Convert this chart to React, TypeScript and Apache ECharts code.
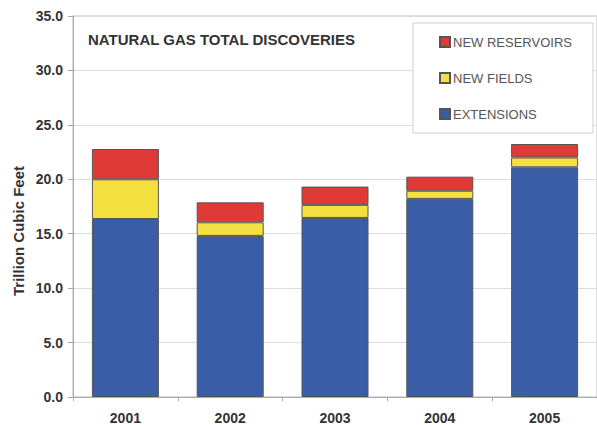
import React, { useEffect, useRef } from "react";
import * as echarts from "echarts";

const categories = ["2001", "2002", "2003", "2004", "2005"];
const extensions = [16.35, 14.8, 16.45, 18.2, 21.1];
const newFields = [3.65, 1.25, 1.2, 0.75, 0.9];
const newReservoirs = [2.78, 1.83, 1.68, 1.29, 1.24];
const legendOrder = ["NEW RESERVOIRS", "NEW FIELDS", "EXTENSIONS"];

const FONT = "'Liberation Sans', Arial, sans-serif";

export default function App() {
  const ref = useRef<HTMLDivElement>(null);
  useEffect(() => {
    if (!ref.current) return;
    const chart = echarts.init(ref.current, undefined, { renderer: "svg" });
    const barStyle = (color: string) => ({
      color,
      borderColor: "#555",
      borderWidth: 1,
    });
    chart.setOption({
      animation: false,
      backgroundColor: "#fff",
      textStyle: { fontFamily: FONT },
      title: {
        text: "NATURAL GAS TOTAL DISCOVERIES",
        left: 88,
        top: 32,
        padding: 0,
        textStyle: { fontFamily: FONT, fontSize: 15, fontWeight: "bold", color: "#333" },
      },
      legend: {
        data: legendOrder,
        orient: "vertical",
        left: 413,
        top: 23,
        padding: [12, 21, 12, 26],
        itemGap: 22,
        itemWidth: 10,
        itemHeight: 10,
        icon: "rect",
        backgroundColor: "#fff",
        borderColor: "#d0d0d0",
        borderWidth: 1,
        textStyle: { fontFamily: FONT, fontSize: 13, color: "#555", lineHeight: 14, padding: [0, 0, 0, -2] },
      },
      grid: {
        left: 73,
        top: 16,
        width: 528,
        height: 381,
        show: true,
        borderColor: "#bbb",
        borderWidth: 1,
        backgroundColor: "transparent",
      },
      xAxis: {
        type: "category",
        data: categories,
        axisLine: { lineStyle: { color: "#aaa" } },
        axisTick: { show: true, length: 4, lineStyle: { color: "#aaa" } },
        axisLabel: { fontFamily: FONT, fontSize: 14, fontWeight: "bold", color: "#333", margin: 14 },
      },
      yAxis: {
        type: "value",
        min: 0,
        max: 35,
        interval: 5,
        axisLine: { show: true, lineStyle: { color: "#aaa" } },
        axisTick: { show: true, length: 5, lineStyle: { color: "#aaa" } },
        axisLabel: {
          fontFamily: FONT,
          fontSize: 14,
          fontWeight: "bold",
          color: "#333",
          margin: 10,
          formatter: (v: number) => v.toFixed(1),
        },
        splitLine: { lineStyle: { color: "#dcdcdc" } },
      },
      graphic: [
        {
          type: "text",
          x: 18,
          y: 231,
          rotation: Math.PI / 2,
          style: {
            text: "Trillion Cubic Feet",
            fontFamily: FONT,
            fontSize: 15,
            fontWeight: "bold",
            fill: "#333",
            align: "center",
            verticalAlign: "middle",
          },
        },
      ],
      series: [
        {
          name: "EXTENSIONS",
          type: "bar",
          stack: "total",
          barWidth: 67,
          data: extensions,
          itemStyle: barStyle("#3A5DA8"),
        },
        {
          name: "NEW FIELDS",
          type: "bar",
          stack: "total",
          barWidth: 67,
          data: newFields,
          itemStyle: barStyle("#F4E03E"),
        },
        {
          name: "NEW RESERVOIRS",
          type: "bar",
          stack: "total",
          barWidth: 67,
          data: newReservoirs,
          itemStyle: barStyle("#E03A36"),
        },
      ],
    });
    return () => chart.dispose();
  }, []);
  return (
    <div
      ref={ref}
      style={{ position: "fixed", left: 0, top: 0, width: 597, height: 425 }}
    />
  );
}
